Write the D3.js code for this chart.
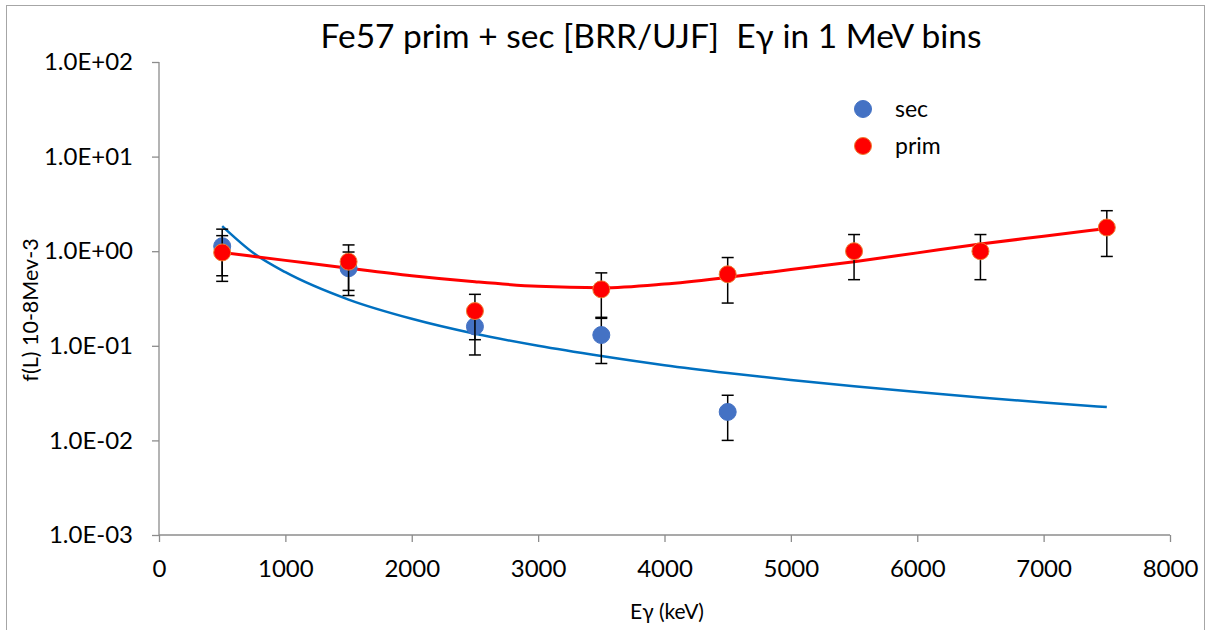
<!DOCTYPE html>
<html>
<head>
<meta charset="utf-8">
<script src="https://cdn.jsdelivr.net/npm/d3@7"></script>
<style>
  body { margin: 0; background: #fff; }
  text { font-family: Lato, "Open Sans", sans-serif; fill: #000; white-space: pre; }
</style>
</head>
<body>
<div id="chart"></div>
<script>
// energies (keV), bin centres
let sec_x = [500, 1500, 2500, 3500, 4500];
let sec_y = [1.13, 0.66, 0.16, 0.13, 0.02];
let sec_err = [0.58, 0.32, 0.08, 0.065, 0.01];

let prim_x = [500, 1500, 2500, 3500, 4500, 5500, 6500, 7500];
let prim_y = [0.97, 0.775, 0.233, 0.395, 0.57, 1.0, 1.0, 1.78];
let prim_err = [0.49, 0.39, 0.117, 0.195, 0.287, 0.5, 0.5, 0.9];

// trend lines
let secFit_x = [500, 750, 1000, 1500, 2000, 2500, 3000, 3500, 4000, 4500, 5000, 5500, 6000, 6500, 7000, 7500];
let secFit_y = [1.84, 0.95, 0.6, 0.308, 0.193, 0.134, 0.1, 0.078, 0.0624, 0.0516, 0.0435, 0.0373, 0.0324, 0.0284, 0.0252, 0.0225];
let primFit_x = [500, 1000, 1500, 2000, 2500, 3000, 3500, 4000, 4500, 5000, 5500, 6000, 6500, 7000, 7500];
let primFit_y = [0.97, 0.8, 0.66, 0.55, 0.475, 0.425, 0.41, 0.45, 0.53, 0.64, 0.775, 0.96, 1.19, 1.44, 1.74];

let xTicks = [0, 1000, 2000, 3000, 4000, 5000, 6000, 7000, 8000];
let yTicks = [1e-3, 1e-2, 1e-1, 1, 1e1, 1e2];

let W = 1210, H = 630;
let margin = {top: 62, left: 159};
let plotRight = 1170, plotBottom = 535;

let svg = d3.select("#chart").append("svg")
    .attr("width", W).attr("height", H);

// chart border
svg.append("rect").attr("x", 6.5).attr("y", 5.5).attr("width", 1198).attr("height", 640)
    .attr("fill", "none").attr("stroke", "#a6a6a6").attr("stroke-width", 1);

let x = d3.scaleLinear().domain([0, 8000]).range([margin.left, plotRight]);
let y = d3.scaleLog().domain([1e-3, 1e2]).range([plotBottom, margin.top]);

let fmt = d => {
    let e = Math.round(Math.log10(d));
    return "1.0E" + (e < 0 ? "-" : "+") + String(Math.abs(e)).padStart(2, "0");
};

let xAxis = svg.append("g").attr("transform", "translate(0," + plotBottom + ")")
    .call(d3.axisBottom(x).tickValues(xTicks).tickSize(7).tickPadding(18).tickFormat(d3.format("d")));
let yAxis = svg.append("g").attr("transform", "translate(" + margin.left + ",0)")
    .call(d3.axisLeft(y).tickValues(yTicks).tickSize(7).tickPadding(19).tickFormat(fmt));

[xAxis, yAxis].forEach(g => {
    g.selectAll("path, line").attr("stroke", "#8c8c8c").attr("stroke-width", 1.3);
    g.selectAll("text").attr("font-size", 24).attr("font-family", "Lato");
});
xAxis.select(".domain").attr("d", "M" + margin.left + ",0H" + plotRight);
yAxis.select(".domain").attr("d", "M0," + plotBottom + "V" + margin.top);

// titles
svg.append("text").attr("x", 651).attr("y", 48).attr("text-anchor", "middle")
    .attr("font-size", 33.5).text("Fe57 prim + sec [BRR/UJF]  E\u03b3 in 1 MeV bins");
svg.append("text").attr("x", 667).attr("y", 619).attr("text-anchor", "middle")
    .attr("font-size", 21).text("E\u03b3 (keV)");
svg.append("text").attr("transform", "translate(38,310) rotate(-90)").attr("text-anchor", "middle")
    .attr("font-size", 21.5).text("f(L) 10-8Mev-3");

// trend lines
let line = d3.line().x(d => x(d[0])).y(d => y(d[1])).curve(d3.curveMonotoneX);
svg.append("path").datum(d3.zip(secFit_x, secFit_y)).attr("d", line)
    .attr("fill", "none").attr("stroke", "#0070c0").attr("stroke-width", 2.5);
svg.append("path").datum(d3.zip(primFit_x, primFit_y)).attr("d", line)
    .attr("fill", "none").attr("stroke", "#ff0000").attr("stroke-width", 3);

function drawSeries(xs, ys, errs, fill, stroke) {
    let data = xs.map((v, i) => ({x: v, y: ys[i], e: errs[i]}));
    let eb = svg.append("g").selectAll("g").data(data).enter().append("g")
        .attr("stroke", "#000").attr("stroke-width", 1.5);
    eb.append("line").attr("x1", d => x(d.x)).attr("x2", d => x(d.x))
        .attr("y1", d => y(d.y + d.e)).attr("y2", d => y(d.y - d.e));
    eb.append("line").attr("x1", d => x(d.x) - 6).attr("x2", d => x(d.x) + 6)
        .attr("y1", d => y(d.y + d.e)).attr("y2", d => y(d.y + d.e));
    eb.append("line").attr("x1", d => x(d.x) - 6).attr("x2", d => x(d.x) + 6)
        .attr("y1", d => y(d.y - d.e)).attr("y2", d => y(d.y - d.e));
    svg.append("g").selectAll("circle").data(data).enter().append("circle")
        .attr("cx", d => x(d.x)).attr("cy", d => y(d.y)).attr("r", 8.5)
        .attr("fill", fill).attr("stroke", stroke).attr("stroke-width", 1);
}
drawSeries(sec_x, sec_y, sec_err, "#4472c4", "#4472c4");
drawSeries(prim_x, prim_y, prim_err, "#ff0000", "#ed7d31");

// legend
let legend = [{name: "sec", fill: "#4472c4", stroke: "#4472c4"}, {name: "prim", fill: "#ff0000", stroke: "#ed7d31"}];
let lg = svg.append("g").selectAll("g").data(legend).enter().append("g")
    .attr("transform", (d, i) => "translate(863," + (109 + i * 37) + ")");
lg.append("circle").attr("r", 8.5).attr("fill", d => d.fill).attr("stroke", d => d.stroke);
lg.append("text").attr("x", 32).attr("y", 8).attr("font-size", 23).text(d => d.name);
</script>
</body>
</html>
